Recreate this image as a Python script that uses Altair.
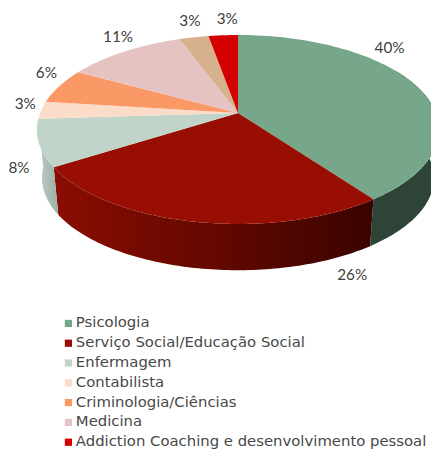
import math
import pandas as pd
import altair as alt

categories = ["Psicologia", "Serviço Social/Educação Social", "Enfermagem", "Contabilista",
              "Criminologia/Ciências", "Medicina", "Outros", "Addiction Coaching e desenvolvimento pessoal"]
shares = [40, 26, 8, 3, 6, 11.4, 2.8, 2.8]
labels = ["40%", "26%", "8%", "3%", "6%", "11%", "3%", "3%"]
top_colors = ["#76A78A", "#990E02", "#C0D4C9", "#FBDCC8", "#FB9966", "#E6C3C3", "#D7B18E", "#D40000"]
legend_values = [c for c in categories if c != "Outros"]

W, H = 423, 441
CX, CY = 230, 105           # apex inside the plot
BX, AY = 197.9, 91.6        # pixels per plane unit
K = 0.1746                  # perspective strength
DEPTH, SHRINK = 49 / AY, 0.975


def rim(theta, lower=False):
    t = math.radians(theta)
    w = 1 + K * math.cos(t)
    x, y = math.sin(t) / w, math.cos(t) / w
    return (SHRINK * x, SHRINK * y - DEPTH) if lower else (x, y)


edges = [0]
for s in shares:
    edges.append(edges[-1] + s * 3.6)


def arc(a, b, n=90):
    return [a + (b - a) * i / n for i in range(n + 1)]


top_rows, label_rows = [], []
for i, c in enumerate(categories):
    pts = [(0, 0)] + [rim(t) for t in arc(edges[i], edges[i + 1])] + [(0, 0)]
    top_rows += [dict(cat=c, x=p[0], y=p[1], o=j) for j, p in enumerate(pts)]
    mx, my = rim((edges[i] + edges[i + 1]) / 2)
    label_rows.append(dict(x=mx, y=my, t=labels[i]))
top_df = pd.DataFrame(top_rows)

x_scale = alt.Scale(domain=[-CX / BX, (W - CX) / BX], range=[0, W], nice=False, zero=False)
y_scale = alt.Scale(domain=[-(H - CY) / AY, CY / AY], range=[H, 0], nice=False, zero=False)
X = alt.X("x:Q", scale=x_scale, axis=None)
Y = alt.Y("y:Q", scale=y_scale, axis=None)


def wall(a, b, stops):
    front = [rim(t) for t in arc(a, b)]
    back = [rim(t, True) for t in arc(a, b)]
    pts = front + back[::-1] + front[:1]
    df = pd.DataFrame([dict(x=p[0], y=p[1], o=j) for j, p in enumerate(pts)])
    grad = alt.Gradient(gradient="linear", x1=0, x2=1, y1=0, y2=0,
                        stops=[alt.GradientStop(offset=o, color=col) for o, col in stops])
    return alt.Chart(df).mark_line(fill=grad, strokeWidth=0).encode(X, Y, order="o:Q")


walls = [
    wall(60, edges[1], [(0, "#2E4437"), (1, "#2E4437")]),
    wall(edges[1], edges[2], [(0, "#8A0D02"), (0.5, "#640800"), (1, "#3A0300")]),
    wall(edges[2], edges[3], [(0, "#BCCCC4"), (1, "#9DB1A7")]),
]

tops = alt.Chart(top_df).mark_line(strokeWidth=0).encode(
    X, Y, order="o:Q",
    fill=alt.Fill("cat:N", scale=alt.Scale(domain=categories, range=top_colors),
                  legend=alt.Legend(title=None, orient="none", legendX=53, legendY=308,
                                    values=legend_values, symbolType="square", symbolSize=52,
                                    symbolStrokeWidth=0, labelFont="DejaVu Sans", labelFontSize=14.85,
                                    labelColor="#484848", rowPadding=3.8, labelOffset=0,
                                    labelLimit=400, symbolOpacity=1)),
)

nudges = [(-27, -38), (159, 53), (-20, 25), (-16, -6), (-13, -13), (-6, -15), (-4, -16), (4, -16)]
texts = [
    alt.Chart(pd.DataFrame([r])).mark_text(font="Lato", fontSize=15.3, color="#404040", dx=d[0], dy=d[1],
                                           align="center", baseline="middle").encode(X, Y, text="t:N")
    for r, d in zip(label_rows, nudges)
]

chart = alt.layer(*walls, tops, *texts).properties(
    width=W, height=H, padding=0, autosize=alt.AutoSizeParams(type="none"),
).configure_view(stroke=None)

chart.save("out.html", embed_options={"renderer": "svg", "actions": False})
